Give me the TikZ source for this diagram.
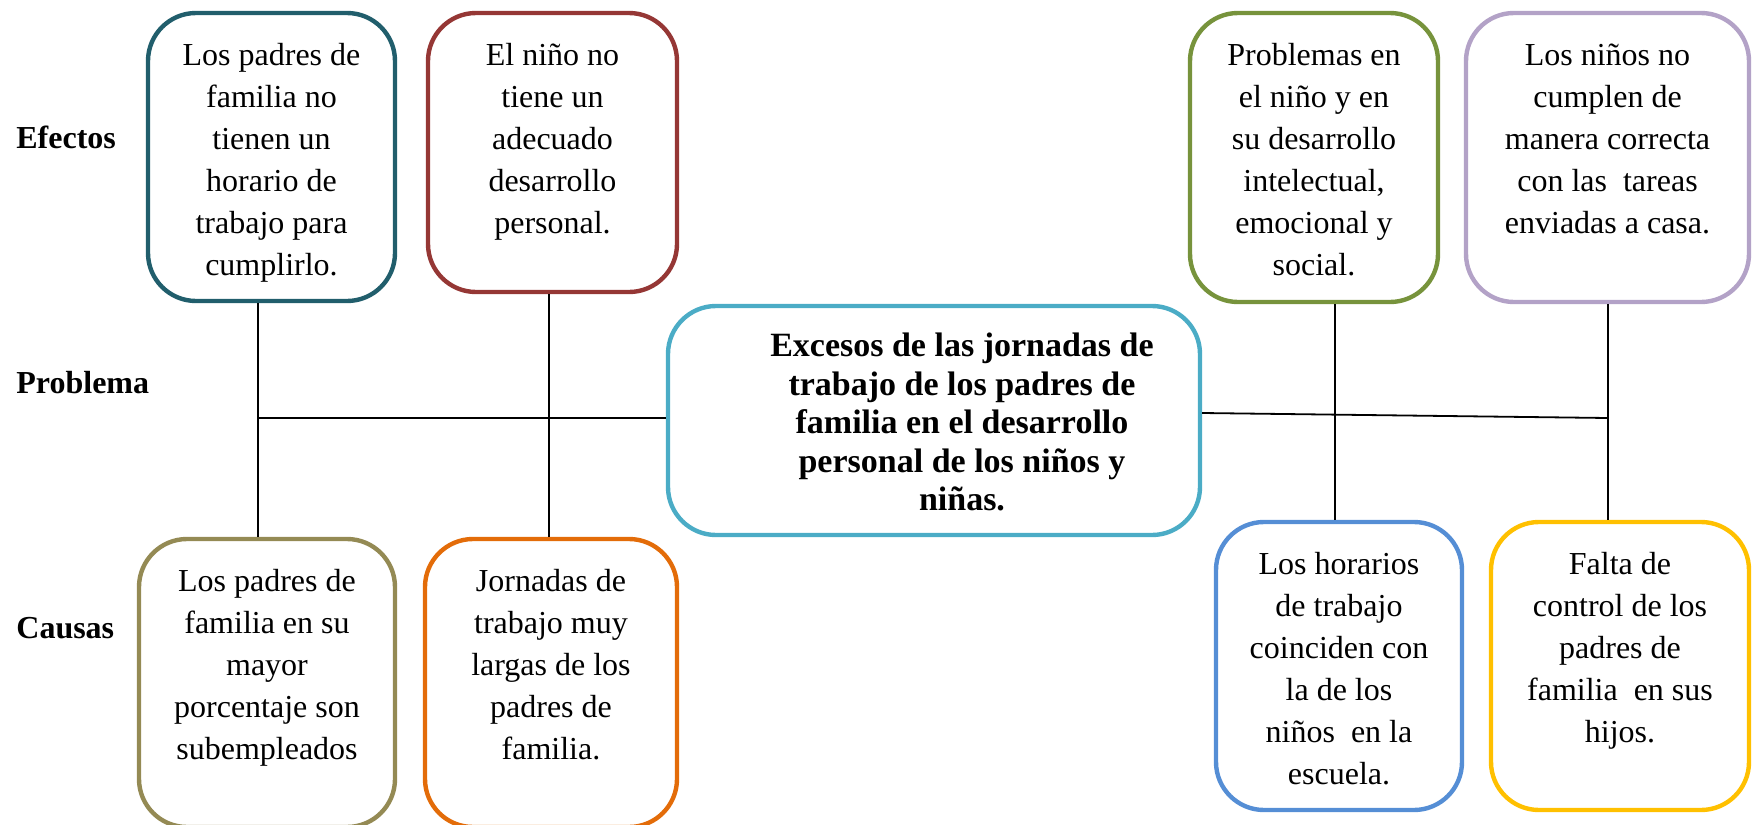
\documentclass[tikz,border=0pt]{standalone}
\usepackage{fontspec}
\setmainfont{Liberation Serif}
\usetikzlibrary{calc}

\definecolor{cteal}{HTML}{215E6C}
\definecolor{crojo}{HTML}{953735}
\definecolor{cverde}{HTML}{77933C}
\definecolor{clila}{HTML}{B3A2C7}
\definecolor{ccian}{HTML}{4BACC6}
\definecolor{coliva}{HTML}{948A54}
\definecolor{cnaranja}{HTML}{E36C09}
\definecolor{cazul}{HTML}{558ED5}
\definecolor{cambar}{HTML}{FFC000}

\newcommand{\caja}[3]{\parbox[c][#1][t]{#2}{\centering\rule{0pt}{26.4pt}#3}}

\tikzset{
  caja/.style={draw=#1, line width=2.2pt, rounded corners=24pt, inner sep=0pt, font=\fontsize{16}{21}\selectfont},
  rotulo/.style={anchor=base west, inner sep=0pt, font=\fontsize{16}{19}\selectfont\bfseries},
  enlace/.style={line width=0.9pt, black}
}

\begin{document}
\begin{tikzpicture}[x=0.5pt,y=-0.5pt]
    \useasboundingbox (0,0) rectangle (1758,825);

    % rotulos
    \node [rotulo] (lefe) at (16,148) {Efectos};
    \node [rotulo] (lpro) at (16,393) {Problema};
    \node [rotulo] (lcau) at (16,638) {Causas};

    % efectos
    \node [caja=cteal, minimum width=123.5pt, minimum height=144pt] (efa) at (271.5,157)
      {\caja{144pt}{115pt}{Los padres de\\ familia no\\ tienen un\\ horario de\\ trabajo para\\ cumplirlo.}};
    \node [caja=crojo, minimum width=124.5pt, minimum height=139.5pt] (efb) at (552.5,152.5)
      {\caja{139.5pt}{115pt}{El niño no\\ tiene un\\ adecuado\\ desarrollo\\ personal.}};
    \node [caja=cverde, minimum width=124pt, minimum height=144.5pt] (efc) at (1314,157.5)
      {\caja{144.5pt}{115pt}{Problemas en\\ el niño y en\\ su desarrollo\\ intelectual,\\ emocional y\\ social.}};
    \node [caja=clila, minimum width=141.5pt, minimum height=144.5pt] (efd) at (1607.5,157.5)
      {\caja{144.5pt}{132pt}{Los niños no\\ cumplen de\\ manera correcta\\ con las\ \ tareas\\ enviadas a casa.}};

    % problema
    \node [caja=ccian, minimum width=266pt, minimum height=114.5pt, font=\fontsize{17}{19.2}\selectfont\bfseries] (centro) at (934,420.5)
      {\hspace*{28pt}\parbox[c][114.5pt][t]{215pt}{\centering\rule{0pt}{25.4pt}Excesos de las jornadas de\\ trabajo de los padres de\\ familia en el desarrollo\\ personal de los niños y\\ niñas.}};

    % causas
    \node [caja=coliva, minimum width=128pt, minimum height=144pt] (cau1) at (267,683)
      {\caja{144pt}{118pt}{Los padres de\\ familia en su\\ mayor\\ porcentaje son\\ subempleados}};
    \node [caja=cnaranja, minimum width=126pt, minimum height=144pt] (cau2) at (551,683)
      {\caja{144pt}{116pt}{Jornadas de\\ trabajo muy\\ largas de los\\ padres de\\ familia.}};
    \node [caja=cazul, minimum width=123pt, minimum height=144pt] (cau3) at (1339,666)
      {\caja{144pt}{115pt}{Los horarios\\ de trabajo\\ coinciden con\\ la de los\\ niños\ \ en la\\ escuela.}};
    \node [caja=cambar, minimum width=129pt, minimum height=144pt] (cau4) at (1620,666)
      {\caja{144pt}{119pt}{Falta de\\ control de los\\ padres de\\ familia\ \ en sus\\ hijos.}};

    % uniones
    \coordinate (i1) at (258,418);
    \coordinate (i2) at (549,418);
    \coordinate (d0) at (1202,413);
    \coordinate (d1) at (1335,416);
    \coordinate (d2) at (1608,418);

    \draw [enlace] (efa.south -| i1) -- (cau1.north -| i1);
    \draw [enlace] (efb.south -| i2) -- (cau2.north -| i2);
    \draw [enlace] (i1) -- (centro.west |- i1);
    \draw [enlace] (centro.east |- d0) -- (d2);
    \draw [enlace] (efc.south -| d1) -- (cau3.north -| d1);
    \draw [enlace] (efd.south -| d2) -- (cau4.north -| d2);
\end{tikzpicture}
\end{document}
